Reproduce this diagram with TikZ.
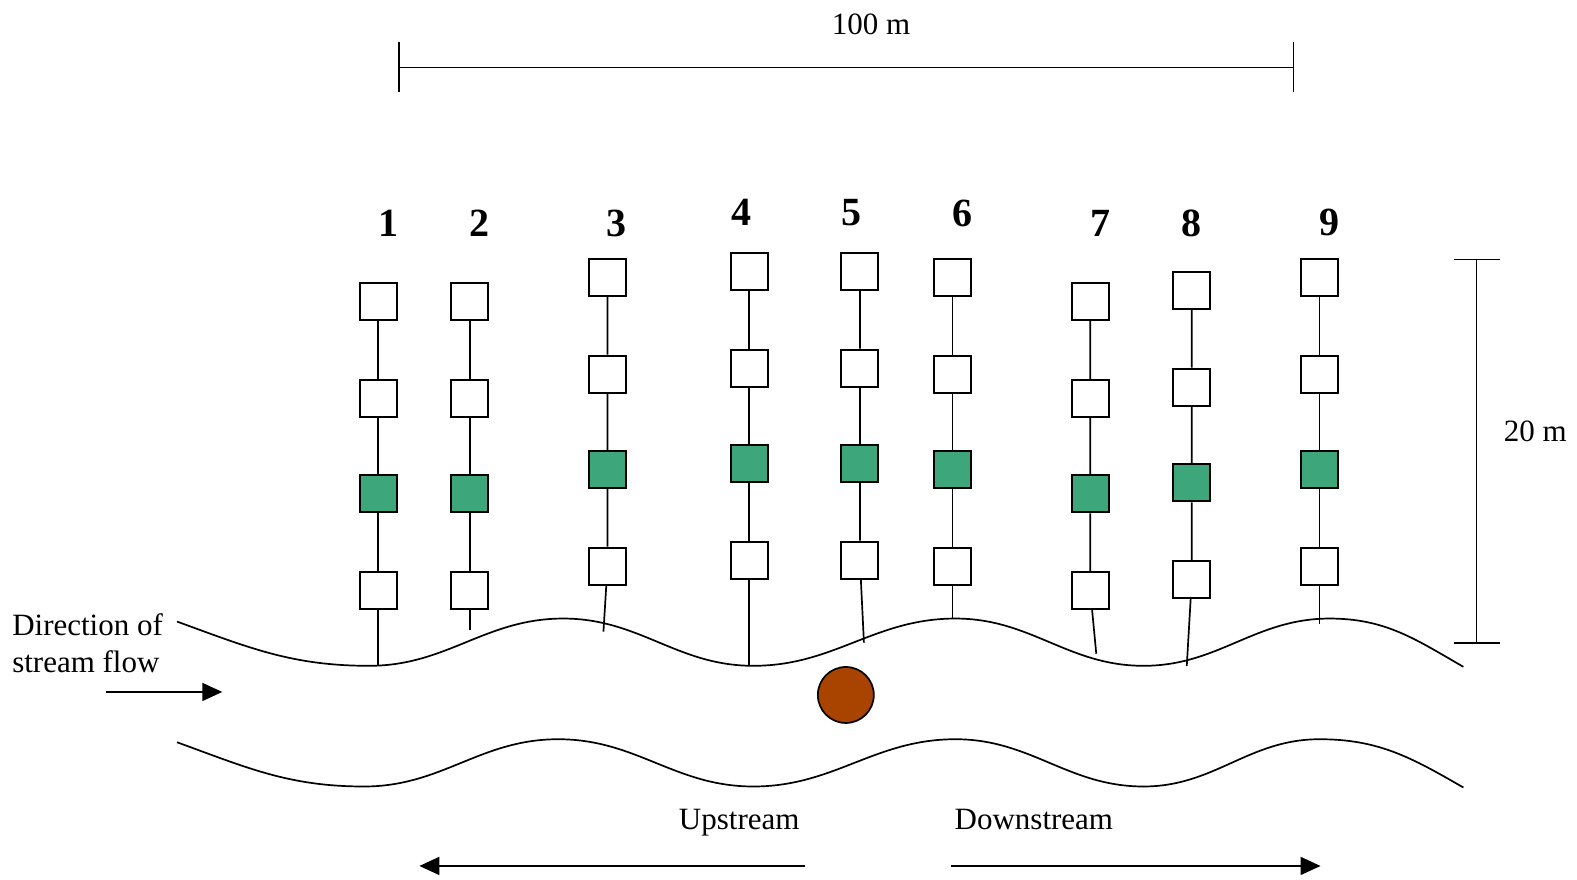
\documentclass[tikz,border=0pt]{standalone}
\usepackage{fontspec}
\setmainfont{Liberation Serif}
\usetikzlibrary{arrows.meta}
\definecolor{boxgreen}{RGB}{61,166,122}
\definecolor{rock}{RGB}{168,68,0}
\begin{document}
\begin{tikzpicture}[x=1.006pt,y=-1.006pt,
  plotbox/.style={draw,line width=2pt,minimum size=37pt,inner sep=0pt,fill=white},
  greenbox/.style={plotbox,fill=boxgreen},
  wire/.style={line width=1.7pt},
  num/.style={font=\fontsize{40}{44}\selectfont\bfseries,anchor=base,inner sep=0pt},
  lbl/.style={font=\fontsize{31}{37}\selectfont,inner sep=0pt},
  arr/.style={line width=1.7pt,-{Triangle[length=20pt,width=18pt]}}]
\useasboundingbox (0,0) rectangle (1568,874);

% scale bars
\coordinate (tl) at (397,67); \coordinate (tr) at (1286,67);
\draw[wire] (tl) -- (tr);
\draw[wire] (397,42) -- (397,91);
\draw[wire] (1286,42) -- (1286,91);
\node[lbl,anchor=base] (hlen) at (866,34) {100 m};

\coordinate (rt) at (1468,258); \coordinate (rb) at (1468,639);
\draw[wire] (rt) -- (rb);
\draw[wire] (1446,258) -- (1491,258);
\draw[wire] (1446,639) -- (1491,639);
\node[lbl,anchor=base west] (vlen) at (1495,439) {20 m};

% stream banks
\draw[wire] (176,618) to[out=-20,in=180] (367,662) to[out=0,in=180] (560,615)
  to[out=0,in=180] (749,662) to[out=0,in=180] (950,615) to[out=0,in=180] (1137,662)
  to[out=0,in=180] (1322,615) to[out=0,in=150] (1455,663);
\draw[wire] (176,738) to[out=-20,in=180] (362,782) to[out=0,in=180] (555,735)
  to[out=0,in=180] (749,782) to[out=0,in=180] (950,735) to[out=0,in=180] (1137,782)
  to[out=0,in=180] (1312,735) to[out=0,in=150] (1455,783);

% transects
\foreach \i/\x/\xe/\ya/\ye in {1/376/376/300/662, 2/467/467/300/626, 3/604/600/276/628,
  4/745/745/270/662, 5/855/859/270/639, 6/947/947/276/614, 7/1084/1090/300/650,
  8/1185/1180/289/662, 9/1312/1312/276/620}{
  \node[plotbox] (c\i-1) at (\x,\ya) {};
  \node[plotbox] (c\i-2) at (\x,\ya+96) {};
  \node[greenbox] (c\i-3) at (\x,\ya+191) {};
  \node[plotbox] (c\i-4) at (\x,\ya+287) {};
  \coordinate (e\i) at (\xe,\ye);
  \draw[wire] (c\i-1) -- (c\i-2) -- (c\i-3) -- (c\i-4) -- (e\i);
}

% transect numbers
\foreach \i/\x/\y in {1/386/235, 2/477/235, 3/613/235, 4/737/224, 5/847/224,
  6/957/225, 7/1094/235, 8/1185/235, 9/1322/234}{
  \node[num] (n\i) at (\x,\y) {\i};
}

% rock
\node[circle,draw,line width=1.7pt,fill=rock,minimum size=56pt,inner sep=0pt] (rock) at (841,691) {};

% flow direction
\node[lbl,anchor=north west,align=left] (flowtxt) at (12,610) {Direction of\\stream flow};
\coordinate (fa) at (105,688); \coordinate (fb) at (221,688);
\draw[arr] (fa) -- (fb);

% upstream / downstream
\node[lbl,anchor=base] (up) at (735,825) {Upstream};
\node[lbl,anchor=base] (down) at (1028,825) {Downstream};
\coordinate (ua) at (800,861); \coordinate (ub) at (417,861);
\coordinate (da) at (946,861); \coordinate (db) at (1313,861);
\draw[arr] (ua) -- (ub);
\draw[arr] (da) -- (db);
\end{tikzpicture}
\end{document}
